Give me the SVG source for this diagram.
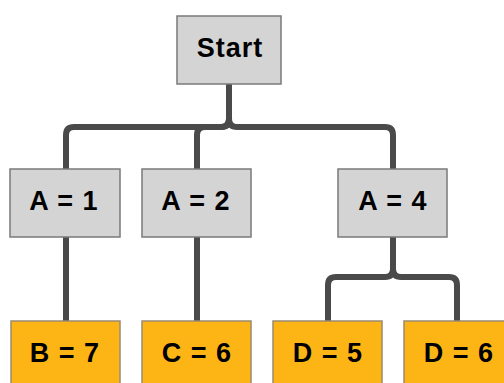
<svg xmlns="http://www.w3.org/2000/svg" width="504" height="383" viewBox="0 0 504 383">
  <style>
    .box rect { stroke: #7a7a7a; stroke-width: 1.5; }
    .grey rect { fill: #d4d4d4; }
    .gold rect { fill: #fdb515; stroke: #9a8a70; }
    .box text { font-family: "Liberation Sans", Arial, sans-serif; font-weight: bold; font-size: 27px; fill: #000; text-anchor: middle; letter-spacing: 1px; }
    .wire { fill: none; stroke: #4a4a4a; stroke-width: 6; stroke-linejoin: round; }
  </style>
  <rect width="504" height="383" fill="#ffffff"/>

  <g id="connectors">
    <path class="wire" d="M229,84 V119 Q229,127 221,127 H74 Q66,127 66,135 V169"/>
    <path class="wire" d="M229,84 V119 Q229,127 221,127 H205 Q197,127 197,135 V169"/>
    <path class="wire" d="M229,84 V119 Q229,127 237,127 H385 Q393,127 393,135 V169"/>
    <path class="wire" d="M66,237 V321"/>
    <path class="wire" d="M197,237 V321"/>
    <path class="wire" d="M393,237 V269 Q393,277 385,277 H336 Q328,277 328,285 V321"/>
    <path class="wire" d="M393,237 V269 Q393,277 401,277 H449 Q457,277 457,285 V321"/>
  </g>

  <g id="start" class="box grey">
    <rect x="177" y="16" width="104" height="68"/>
    <text x="230" y="57">Start</text>
  </g>
  <g id="a1" class="box grey">
    <rect x="10" y="169" width="110" height="68"/>
    <text x="64" y="210">A = 1</text>
  </g>
  <g id="a2" class="box grey">
    <rect x="142" y="169" width="109" height="68"/>
    <text x="196" y="210">A = 2</text>
  </g>
  <g id="a4" class="box grey">
    <rect x="338" y="169" width="109" height="68"/>
    <text x="393" y="210">A = 4</text>
  </g>
  <g id="b7" class="box gold">
    <rect x="11" y="321" width="109" height="70"/>
    <text x="65" y="362">B = 7</text>
  </g>
  <g id="c6" class="box gold">
    <rect x="142" y="321" width="109" height="70"/>
    <text x="197" y="362">C = 6</text>
  </g>
  <g id="d5" class="box gold">
    <rect x="273" y="321" width="109" height="70"/>
    <text x="328" y="362">D = 5</text>
  </g>
  <g id="d6" class="box gold">
    <rect x="404" y="321" width="109" height="70"/>
    <text x="459" y="362">D = 6</text>
  </g>
</svg>
